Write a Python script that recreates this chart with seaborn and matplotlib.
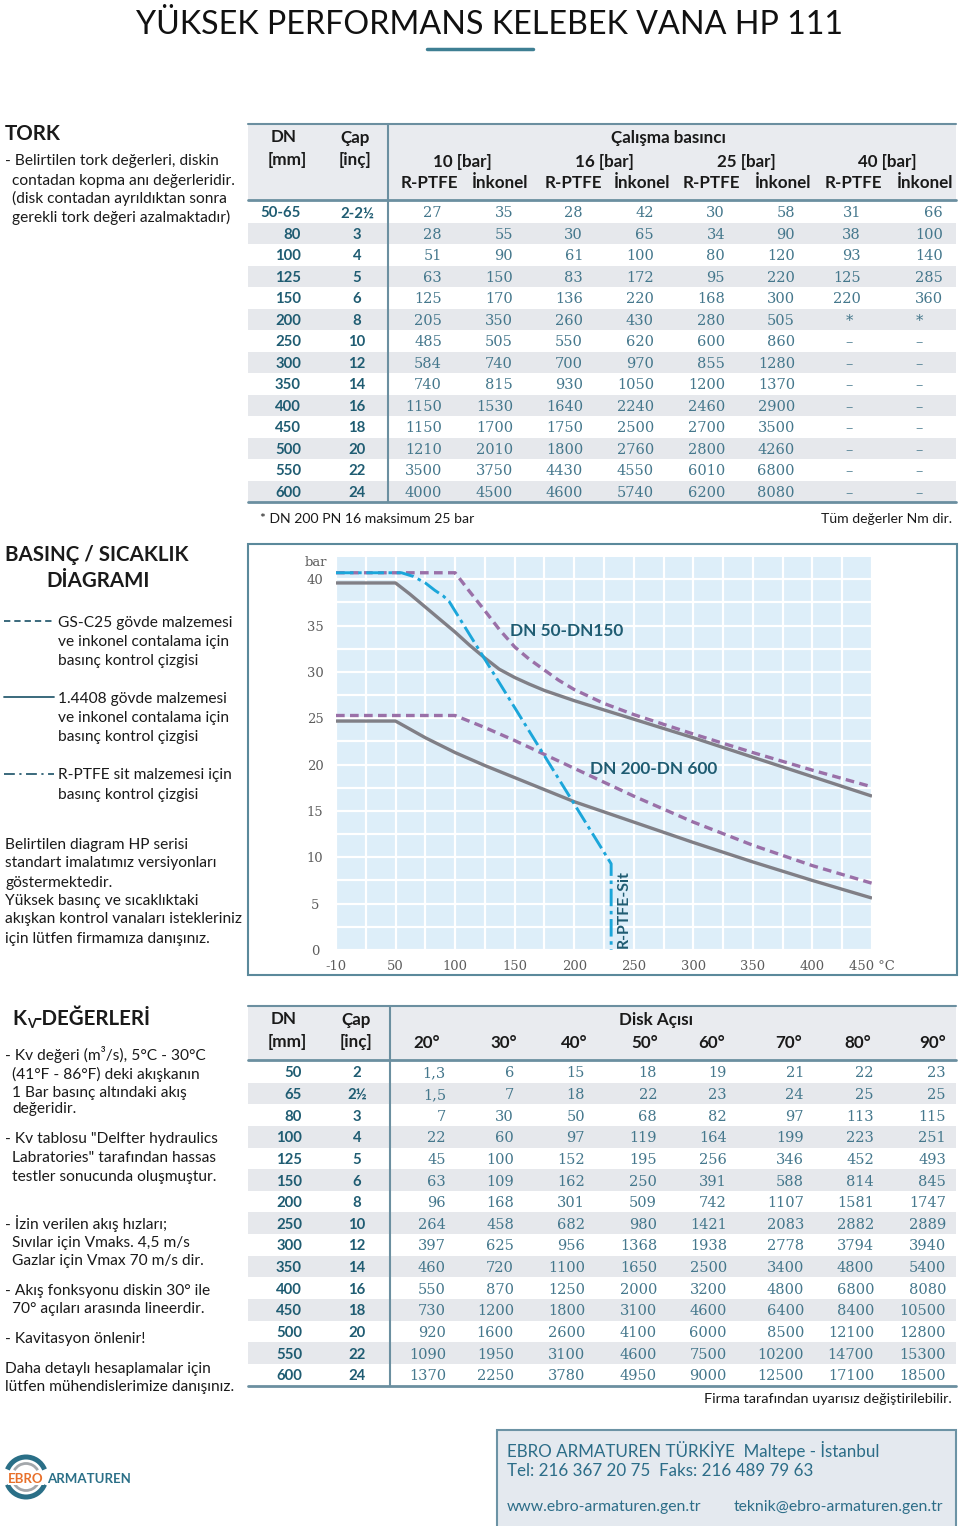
import numpy as np
import pandas as pd
import matplotlib
matplotlib.use("Agg")
import matplotlib.pyplot as plt
import seaborn as sns
from matplotlib import font_manager
from matplotlib.patches import Rectangle, Arc

# ---------------- data ----------------
torque_dn = ["50-65", "80", "100", "125", "150", "200", "250", "300", "350", "400", "450", "500", "550", "600"]
torque_cap = ["2-2½", "3", "4", "5", "6", "8", "10", "12", "14", "16", "18", "20", "22", "24"]
torque_rptfe_10 = [27, 28, 51, 63, 125, 205, 485, 584, 740, 1150, 1150, 1210, 3500, 4000]
torque_inkonel_10 = [35, 55, 90, 150, 170, 350, 505, 740, 815, 1530, 1700, 2010, 3750, 4500]
torque_rptfe_16 = [28, 30, 61, 83, 136, 260, 550, 700, 930, 1640, 1750, 1800, 4430, 4600]
torque_inkonel_16 = [42, 65, 100, 172, 220, 430, 620, 970, 1050, 2240, 2500, 2760, 4550, 5740]
torque_rptfe_25 = [30, 34, 80, 95, 168, 280, 600, 855, 1200, 2460, 2700, 2800, 6010, 6200]
torque_inkonel_25 = [58, 90, 120, 220, 300, 505, 860, 1280, 1370, 2900, 3500, 4260, 6800, 8080]
torque_rptfe_40 = ["31", "38", "93", "125", "220", "*"] + ["–"] * 8
torque_inkonel_40 = ["66", "100", "140", "285", "360", "*"] + ["–"] * 8
pressure_groups = ["10 [bar]", "16 [bar]", "25 [bar]", "40 [bar]"]

kv_dn = ["50", "65", "80", "100", "125", "150", "200", "250", "300", "350", "400", "450", "500", "550", "600"]
kv_cap = ["2", "2½", "3", "4", "5", "6", "8", "10", "12", "14", "16", "18", "20", "22", "24"]
kv_angles = ["20°", "30°", "40°", "50°", "60°", "70°", "80°", "90°"]
kv_20 = [1.3, 1.5, 7, 22, 45, 63, 96, 264, 397, 460, 550, 730, 920, 1090, 1370]
kv_30 = [6, 7, 30, 60, 100, 109, 168, 458, 625, 720, 870, 1200, 1600, 1950, 2250]
kv_40 = [15, 18, 50, 97, 152, 162, 301, 682, 956, 1100, 1250, 1800, 2600, 3100, 3780]
kv_50 = [18, 22, 68, 119, 195, 250, 509, 980, 1368, 1650, 2000, 3100, 4100, 4600, 4950]
kv_60 = [19, 23, 82, 164, 256, 391, 742, 1421, 1938, 2500, 3200, 4600, 6000, 7500, 9000]
kv_70 = [21, 24, 97, 199, 346, 588, 1107, 2083, 2778, 3400, 4800, 6400, 8500, 10200, 12500]
kv_80 = [22, 25, 113, 223, 452, 814, 1581, 2882, 3794, 4800, 6800, 8400, 12100, 14700, 17100]
kv_90 = [23, 25, 115, 251, 493, 845, 1747, 2889, 3940, 5400, 8080, 10500, 12800, 15300, 18500]

# pressure / temperature curves (temperature °C, pressure bar)
temp_ticks = [-10, 50, 100, 150, 200, 250, 300, 350, 400, 450]
temp_labels = ["-10", "50", "100", "150", "200", "250", "300", "350", "400", "450 °C"]
bar_ticks = [0, 5, 10, 15, 20, 25, 30, 35, 40]
dn50_carbon_t = [-10, 100, 112, 125, 137, 150, 162, 175, 187, 200, 225, 250, 300, 350, 400, 450]
dn50_carbon_p = [40.7, 40.7, 38.7, 36.6, 34.6, 32.7, 31.4, 30.2, 29.1, 28.1, 26.6, 25.4, 23.3, 21.3, 19.4, 17.6]
dn50_steel_t = [-10, 50, 62, 75, 87, 100, 112, 125, 137, 150, 162, 175, 200, 250, 300, 350, 400, 450]
dn50_steel_p = [39.6, 39.6, 38.4, 37.0, 35.7, 34.3, 32.9, 31.5, 30.3, 29.4, 28.7, 28.0, 26.9, 24.9, 22.9, 20.8, 18.7, 16.6]
dn200_carbon_t = [-10, 100, 125, 150, 175, 200, 250, 300, 350, 400, 450]
dn200_carbon_p = [25.3, 25.3, 24.0, 22.6, 21.1, 19.6, 16.6, 13.8, 11.3, 9.1, 7.2]
dn200_steel_t = [-10, 50, 75, 100, 125, 150, 175, 200, 250, 300, 350, 400, 450]
dn200_steel_p = [24.7, 24.7, 22.9, 21.3, 19.9, 18.6, 17.3, 16.0, 13.8, 11.6, 9.5, 7.5, 5.6]
rptfe_t = [-10, 55, 65, 75, 83, 90, 95, 231, 231]
rptfe_p = [40.7, 40.7, 40.3, 39.6, 38.8, 38.2, 37.6, 9.3, 0]

# ---------------- style ----------------
sns.set_theme(style="white")
names = {f.name for f in font_manager.fontManager.ttflist}
BODY = "Lato" if "Lato" in names else "DejaVu Sans"
NARROW = "Liberation Sans Narrow" if "Liberation Sans Narrow" in names else BODY
SERIF = "DejaVu Serif"
plt.rcParams["font.family"] = [BODY, "DejaVu Sans"]

TEAL = "#1F5C72"
NUM = "#44778C"
LINE = "#6B8FA0"
ROW = "#E6E8EC"
HEAD_BG = "#E9EBEF"
INK = "#1A1A1A"

fig = plt.figure(figsize=(9.6, 15.26), dpi=100)
page = fig.add_axes([0, 0, 1, 1])
page.set_xlim(0, 960)
page.set_ylim(1526, 0)
page.axis("off")
renderer = fig.canvas.get_renderer()


def fit(s, width, family, weight="normal"):
    t = page.text(0, 0, s, fontsize=10, family=[family, "DejaVu Sans"], fontweight=weight)
    w = t.get_window_extent(renderer).width
    t.remove()
    return 10 * width / w


def put(x, y, s, size, family=BODY, weight="normal", color=INK, ha="left", target=None, **kw):
    target = target or page
    target.text(x, y, s, fontsize=size, family=[family, "DejaVu Sans"], fontweight=weight,
                color=color, ha=ha, va="center_baseline", transform=page.transData,
                clip_on=False, **kw)


title = "YÜKSEK PERFORMANS KELEBEK VANA HP 111"
S_TITLE = fit(title, 702, NARROW)
S_BODY = fit("contadan kopma anı değerleridir.", 224, BODY)
S_HEAD = fit("BASINÇ / SICAKLIK", 184, BODY, "bold")
S_TH = fit("İnkonel", 57, BODY, "bold")
S_DN = fit("50-65", 40, BODY, "bold")
S_NUM = fit("1640", 37, SERIF)
S_TICK = fit("100", 25, SERIF)
S_NOTE = fit("* DN 200 PN 16 maksimum 25 bar", 214, BODY)
S_FOOT = fit("Firma tarafından uyarısız değiştirilebilir.", 248, NARROW)
S_BOX = fit("EBRO ARMATUREN TÜRKİYE  Maltepe - İstanbul", 371, NARROW)
S_LBL = fit("DN 50-DN150", 113, BODY, "bold")
S_LOGO = fit("ARMATUREN", 84, BODY, "bold")

# ---------------- title ----------------
put(489, 22, title, S_TITLE, family=NARROW, color="#111111", ha="center")
page.plot([427, 533], [49, 49], color="#3E7F93", lw=2.5)

# ---------------- left texts ----------------
put(5, 132, "TORK", S_HEAD, weight="bold")
for y, s in zip([160, 179, 197, 216],
                ["- Belirtilen tork değerleri, diskin", "contadan kopma anı değerleridir.",
                 "(disk contadan ayrıldıktan sonra", "gerekli tork değeri azalmaktadır)"]):
    put(5 if s.startswith("-") else 12, y, s, S_BODY)

put(5, 553, "BASINÇ / SICAKLIK", S_HEAD, weight="bold")
put(46, 579, "DİAGRAMI", S_HEAD, weight="bold")

legend_styles = [(0, (3.5, 2.2)), "-", (0, (6, 2.5, 1.2, 2.5))]
legend_texts = [["GS-C25 gövde malzemesi", "ve inkonel contalama için", "basınç kontrol çizgisi"],
                ["1.4408 gövde malzemesi", "ve inkonel contalama için", "basınç kontrol çizgisi"],
                ["R-PTFE sit malzemesi için", "basınç kontrol çizgisi"]]
for y0, ls, lines in zip([621, 697, 774], legend_styles, legend_texts):
    page.plot([4, 54], [y0, y0], color="#2B5E72", lw=1.3, linestyle=ls)
    for k, s in enumerate(lines):
        put(58, y0 + k * 19.3, s, S_BODY)

for y, s in zip([843, 862, 881, 899, 918, 937],
                ["Belirtilen diagram HP serisi", "standart imalatımız versiyonları", "göstermektedir.",
                 "Yüksek basınç ve sıcaklıktaki", "akışkan kontrol vanaları istekleriniz",
                 "için lütfen firmamıza danışınız."]):
    put(5, y, s, S_BODY)

put(12, 1017, "K", S_HEAD, weight="bold")
put(27, 1023, "V", S_HEAD * 0.62, weight="bold")
put(35, 1017, "-DEĞERLERİ", S_HEAD, weight="bold")
kv_notes = [(1053, "- Kv değeri (m³/s), 5°C - 30°C"), (1073, "(41°F - 86°F) deki akışkanın"),
            (1091, "1 Bar basınç altındaki akış"), (1108, "değeridir."),
            (1138, "- Kv tablosu \"Delfter hydraulics"), (1157, "Labratories\" tarafından hassas"),
            (1176, "testler sonucunda oluşmuştur."),
            (1222, "- İzin verilen akış hızları;"), (1242, "Sıvılar için Vmaks. 4,5 m/s"),
            (1260, "Gazlar için Vmax 70 m/s dir."),
            (1289, "- Akış fonksyonu diskin 30° ile"), (1308, "70° açıları arasında lineerdir."),
            (1338, "- Kavitasyon önlenir!")]
for y, s in kv_notes:
    put(5 if s.startswith("-") else 12, y, s, S_BODY)
put(5, 1367, "Daha detaylı hesaplamalar için", S_BODY)
put(5, 1386, "lütfen mühendislerimize danışınız.", S_BODY)

# ---------------- torque table ----------------
T_TOP, T_HEAD, T_ROW0, T_RH = 124, 200, 201, 21.5
T_BOT = T_ROW0 + T_RH * len(torque_dn)
page.add_patch(Rectangle((248, T_TOP), 708, T_HEAD - T_TOP, fc=HEAD_BG, ec="none"))
for i in range(len(torque_dn)):
    if i % 2:
        page.add_patch(Rectangle((248, T_ROW0 + T_RH * i), 708, T_RH, fc=ROW, ec="none"))
page.plot([248, 956], [T_TOP, T_TOP], color=LINE, lw=1.5)
page.plot([248, 956], [T_HEAD, T_HEAD], color=LINE, lw=2)
page.plot([248, 956], [T_BOT, T_BOT], color=LINE, lw=2)
page.plot([388, 388], [T_TOP, T_BOT], color=LINE, lw=1.5)

put(284, 136, "DN", S_TH, weight="bold", ha="center")
put(287, 158, "[mm]", S_TH, weight="bold", ha="center")
put(355, 136, "Çap", S_TH, weight="bold", ha="center")
put(355, 158, "[inç]", S_TH, weight="bold", ha="center")
put(668, 136, "Çalışma basıncı", S_TH, weight="bold", ha="center")
for xc, s in zip([462, 604, 746, 887], pressure_groups):
    put(xc, 160, s, S_TH, weight="bold", ha="center")
for xr, xi in zip([429, 573, 711, 853], [500, 642, 783, 925]):
    put(xr, 182, "R-PTFE", S_TH, weight="bold", ha="center")
    put(xi, 182, "İnkonel", S_TH, weight="bold", ha="center")

torque_cols = [torque_rptfe_10, torque_inkonel_10, torque_rptfe_16, torque_inkonel_16,
               torque_rptfe_25, torque_inkonel_25, torque_rptfe_40, torque_inkonel_40]
torque_right = [442, 513, 583, 654, 725, 795, 861, 943]
torque_mid = [None] * 6 + [849, 919]
for i in range(len(torque_dn)):
    yc = T_ROW0 + T_RH * (i + 0.5)
    put(301, yc, torque_dn[i], S_DN, weight="bold", color=TEAL, ha="right")
    put(357, yc, torque_cap[i], S_DN, weight="bold", color=TEAL, ha="center")
    for col, xr, xm in zip(torque_cols, torque_right, torque_mid):
        v = str(col[i])
        if v in ("*", "–"):
            put(xm, yc, v, S_NUM, family=SERIF, color=NUM, ha="center")
        else:
            put(xr, yc, v, S_NUM, family=SERIF, color=NUM, ha="right")

put(260, 518, "* DN 200 PN 16 maksimum 25 bar", S_NOTE)
put(952, 518, "Tüm değerler Nm dir.", S_NOTE, ha="right")

# ---------------- pressure / temperature chart ----------------
page.add_patch(Rectangle((248, 544), 709, 431, fc="none", ec="#5B899B", lw=1.5))
ax = fig.add_axes([336 / 960, (1526 - 950) / 1526, (872 - 336) / 960, (950 - 557) / 1526])
ax.set_facecolor("#DDEEF9")

curves = [
    (dn50_carbon_t, dn50_carbon_p, "#9A70A8", 2.4, (0, (2.6, 1.6))),
    (dn200_carbon_t, dn200_carbon_p, "#9A70A8", 2.4, (0, (2.6, 1.6))),
    (dn50_steel_t, dn50_steel_p, "#807F86", 2.4, "-"),
    (dn200_steel_t, dn200_steel_p, "#807F86", 2.4, "-"),
    (rptfe_t, rptfe_p, "#1BA6DA", 2.1, (0, (6, 1.6, 1.2, 1.6))),
]
for t, p, c, lw, ls in curves:
    df = pd.DataFrame({"temp": t, "bar": p})
    sns.lineplot(data=df, x="temp", y="bar", ax=ax, color=c, lw=lw, linestyle=ls,
                 estimator=None, sort=False, solid_capstyle="butt", solid_joinstyle="round")

idx = np.arange(len(temp_ticks))


def fwd(x):
    return np.interp(x, temp_ticks, idx)


def inv(x):
    return np.interp(x, idx, temp_ticks)


ax.set_xscale("function", functions=(fwd, inv))
ax.set_xlim(-10, 450)
ax.set_ylim(0, 42.4)
ax.set_xticks(temp_ticks, temp_labels, fontfamily=SERIF)
ax.set_xticks(inv(idx[:-1] + 0.5), minor=True)
ax.set_yticks(bar_ticks, [str(b) for b in bar_ticks], fontfamily=SERIF)
ax.set_yticks(np.arange(2.5, 42.5, 5), minor=True)
ax.grid(True, which="both", color="white", lw=1.6)
ax.set_axisbelow(True)
ax.tick_params(which="both", length=0, labelsize=S_TICK, labelcolor="#5C5C5C")
ax.tick_params(axis="y", pad=15)
ax.tick_params(axis="x", pad=7)
for lbl in ax.get_yticklabels():
    lbl.set_horizontalalignment("center")
ax.set_xlabel("")
ax.set_ylabel("")
for sp in ax.spines.values():
    sp.set_visible(False)

put(316, 561, "bar", S_TICK, family=SERIF, color="#5C5C5C", ha="center")
put(510, 630, "DN 50-DN150", S_LBL, weight="bold", color=TEAL, target=ax)
put(590, 767, "DN 200-DN 600", S_LBL, weight="bold", color=TEAL, target=ax)
ax.text(624, 909, "R-PTFE-Sit", fontsize=S_LBL * 0.92, family=[BODY, "DejaVu Sans"],
        fontweight="bold", color=TEAL, rotation=90, ha="center", va="center",
        transform=page.transData, clip_on=False)

# ---------------- Kv table ----------------
K_TOP, K_HEAD, K_ROW0, K_RH = 1006, 1060, 1061, 21.64
K_BOT = K_ROW0 + K_RH * len(kv_dn)
page.add_patch(Rectangle((248, K_TOP), 708, K_HEAD - K_TOP, fc=HEAD_BG, ec="none"))
for i in range(len(kv_dn)):
    if i % 2:
        page.add_patch(Rectangle((248, K_ROW0 + K_RH * i), 708, K_RH, fc=ROW, ec="none"))
page.plot([248, 956], [K_TOP, K_TOP], color=LINE, lw=1.5)
page.plot([248, 956], [K_HEAD, K_HEAD], color=LINE, lw=2)
page.plot([248, 956], [K_BOT, K_BOT], color=LINE, lw=2)
page.plot([390, 390], [K_TOP, K_BOT], color=LINE, lw=1.5)

put(284, 1018, "DN", S_TH, weight="bold", ha="center")
put(287, 1040, "[mm]", S_TH, weight="bold", ha="center")
put(356, 1018, "Çap", S_TH, weight="bold", ha="center")
put(356, 1040, "[inç]", S_TH, weight="bold", ha="center")
put(656, 1019, "Disk Açısı", S_TH, weight="bold", ha="center")
kv_cols = [kv_20, kv_30, kv_40, kv_50, kv_60, kv_70, kv_80, kv_90]
kv_right = [446, 514, 585, 657, 727, 804, 874, 946]
for xc, s in zip([427, 504, 574, 645, 712, 789, 858, 933], kv_angles):
    put(xc, 1042, s, S_TH, weight="bold", ha="center")
for i in range(len(kv_dn)):
    yc = K_ROW0 + K_RH * (i + 0.5)
    put(302, yc, kv_dn[i], S_DN, weight="bold", color=TEAL, ha="right")
    put(357, yc, kv_cap[i], S_DN, weight="bold", color=TEAL, ha="center")
    for col, xr in zip(kv_cols, kv_right):
        v = col[i]
        s = f"{v:g}".replace(".", ",")
        put(xr, yc, s, S_NUM, family=SERIF, color=NUM, ha="right")

put(952, 1398, "Firma tarafından uyarısız değiştirilebilir.", S_FOOT, family=NARROW, ha="right")

# ---------------- footer ----------------
page.add_patch(Rectangle((497, 1430), 459, 100, fc="#E4E9EF", ec="#6C93A5", lw=1.5))
BOXC = "#2C6D88"
put(507, 1449, "EBRO ARMATUREN TÜRKİYE  Maltepe - İstanbul", S_BOX, family=NARROW, color=BOXC)
put(507, 1469, "Tel: 216 367 20 75  Faks: 216 489 79 63", S_BOX, family=NARROW, color=BOXC)
put(507, 1505, "www.ebro-armaturen.gen.tr", S_BOX * 0.93, family=NARROW, color=BOXC)
put(734, 1505, "teknik@ebro-armaturen.gen.tr", S_BOX * 0.93, family=NARROW, color=BOXC)

# logo
for a1, a2 in [(22, 158), (202, 338)]:
    page.add_patch(Arc((26, 1477), 40, 40, theta1=a1, theta2=a2, color="#2A6F87", lw=3.6))
    page.add_patch(Arc((26, 1477), 27, 27, theta1=a1 + 8, theta2=a2 - 8, color="#A3A7AB", lw=2))
put(26, 1478, "EBRO", S_LOGO, weight="bold", color="#E8702A", ha="center",
    bbox=dict(fc="white", ec="none", pad=0.2))
put(47, 1478, "ARMATUREN", S_LOGO, weight="bold", color="#2A6F87")

fig.savefig("out.png", dpi=100)
